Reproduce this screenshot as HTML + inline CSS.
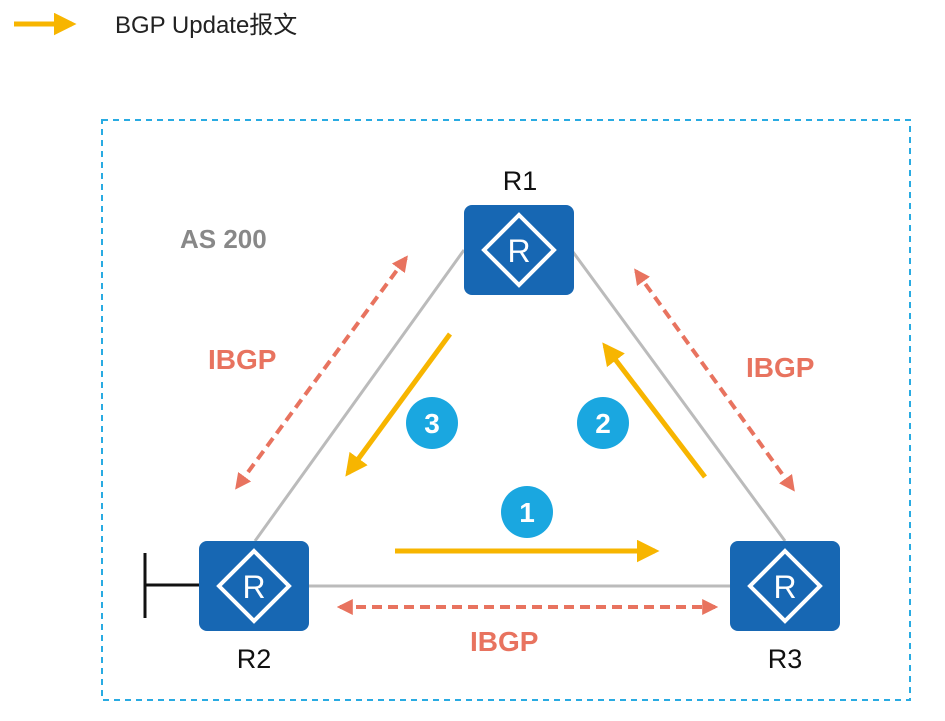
<!DOCTYPE html>
<html><head><meta charset="utf-8"><style>
html,body{margin:0;padding:0;background:#fff;width:945px;height:721px;overflow:hidden}
svg{display:block}
</style></head><body>
<svg width="945" height="721" viewBox="0 0 945 721" xmlns="http://www.w3.org/2000/svg">
<defs>
<marker id="oa" viewBox="0 0 10 10" refX="8" refY="5" markerWidth="4.5" markerHeight="4.5" orient="auto-start-reverse" markerUnits="strokeWidth"><path d="M0,0 L10,5 L0,10 z" fill="#f7b500"/></marker>
<marker id="ra" viewBox="0 0 10 10" refX="8" refY="5" markerWidth="4" markerHeight="4" orient="auto-start-reverse" markerUnits="strokeWidth"><path d="M0,0 L10,5 L0,10 z" fill="#e8735f"/></marker>
<g id="rt">
<rect x="0" y="0" width="110" height="90" rx="8" fill="#1767b3"/>
<polygon points="55,10 90,45 55,80 20,45" fill="none" stroke="#fff" stroke-width="4"/>
<text x="55" y="57" font-family="Liberation Sans, sans-serif" font-size="32" fill="#fff" text-anchor="middle">R</text>
</g>
</defs>
<!-- legend -->
<line x1="14" y1="24" x2="72" y2="24" stroke="#f7b500" stroke-width="5" marker-end="url(#oa)"/>
<text x="115" y="33" font-family="Liberation Sans, 'Noto Sans CJK SC', sans-serif" font-size="24" fill="#222">BGP Update报文</text>
<!-- AS border -->
<rect x="102" y="120" width="808" height="580" fill="none" stroke="#29abe2" stroke-width="2" stroke-dasharray="6,5"/>
<text x="180" y="248" font-family="Liberation Sans, sans-serif" font-size="26" font-weight="bold" fill="#888">AS 200</text>
<!-- links -->
<g stroke="#bbb" stroke-width="3">
<line x1="464" y1="250" x2="255" y2="541"/>
<line x1="573" y1="252" x2="785" y2="541"/>
<line x1="308" y1="586" x2="730" y2="586"/>
<line x1="145" y1="585" x2="199" y2="585" stroke="#111"/>
<line x1="145" y1="553" x2="145" y2="618" stroke="#111"/>
</g>
<!-- dashed IBGP -->
<g stroke="#e8735f" stroke-width="4" stroke-dasharray="10,6" fill="none">
<line x1="406" y1="258" x2="237" y2="487" marker-start="url(#ra)" marker-end="url(#ra)"/>
<line x1="636" y1="271" x2="793" y2="489" marker-start="url(#ra)" marker-end="url(#ra)"/>
<line x1="340" y1="607" x2="715" y2="607" marker-start="url(#ra)" marker-end="url(#ra)"/>
</g>
<g font-family="Liberation Sans, sans-serif" font-size="28" font-weight="bold" fill="#e8735f">
<text x="208" y="369">IBGP</text>
<text x="746" y="377">IBGP</text>
<text x="470" y="651">IBGP</text>
</g>
<!-- orange update arrows -->
<g stroke="#f7b500" stroke-width="5" fill="none">
<line x1="395" y1="551" x2="655" y2="551" marker-end="url(#oa)"/>
<line x1="705" y1="477" x2="605" y2="346" marker-end="url(#oa)"/>
<line x1="450" y1="334" x2="348" y2="473" marker-end="url(#oa)"/>
</g>
<!-- numbered circles -->
<g font-family="Liberation Sans, sans-serif" font-size="28" font-weight="bold" fill="#fff" text-anchor="middle">
<circle cx="527" cy="512" r="26" fill="#1aa7e0"/><text x="527" y="522">1</text>
<circle cx="603" cy="423" r="26" fill="#1aa7e0"/><text x="603" y="433">2</text>
<circle cx="432" cy="423" r="26" fill="#1aa7e0"/><text x="432" y="433">3</text>
</g>
<!-- routers -->
<use href="#rt" x="464" y="205"/>
<use href="#rt" x="199" y="541"/>
<use href="#rt" x="730" y="541"/>
<g font-family="Liberation Sans, sans-serif" font-size="27" fill="#111" text-anchor="middle">
<text x="520" y="190">R1</text>
<text x="254" y="668">R2</text>
<text x="785" y="668">R3</text>
</g>
</svg>
</body></html>
